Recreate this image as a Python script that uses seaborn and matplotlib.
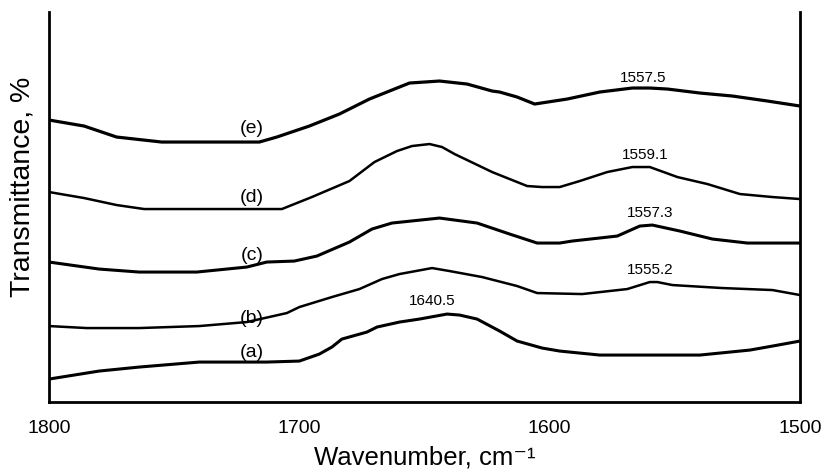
import numpy as np
import pandas as pd
import matplotlib
matplotlib.use("Agg")
import matplotlib.pyplot as plt
import seaborn as sns

# ---- data (y in arbitrary offset transmittance units) ----
wn_e = [1800, 1786, 1773, 1755, 1716, 1709, 1696, 1684, 1676, 1672, 1660, 1656, 1644, 1633,
        1623, 1620, 1613, 1606, 1593, 1580, 1567, 1560, 1553, 1540, 1527, 1513, 1500]
tr_e = [282, 276, 265, 260, 260, 265, 276, 288, 298, 303, 315, 319, 321, 318,
        311, 310, 305, 298, 303, 310, 314, 314, 313, 309, 306, 301, 296]

wn_d = [1800, 1786, 1773, 1762, 1707, 1695, 1680, 1670, 1661, 1655, 1648, 1643, 1638, 1623,
        1609, 1603, 1596, 1588, 1577, 1567, 1560, 1549, 1537, 1524, 1511, 1500]
tr_d = [210, 204, 197, 193, 193, 205, 221, 240, 251, 256, 258, 255, 248, 230,
        216, 215, 215, 221, 230, 235, 235, 225, 218, 208, 205, 203]

wn_c = [1800, 1780, 1764, 1741, 1721, 1713, 1702, 1693, 1680, 1671, 1663, 1644, 1629,
        1616, 1605, 1596, 1591, 1573, 1564, 1559, 1548, 1535, 1521, 1500]
tr_c = [140, 133, 130, 130, 135, 140, 141, 146, 160, 173, 179, 184, 179,
        168, 159, 159, 161, 166, 176, 177, 171, 163, 159, 159]

wn_b = [1800, 1785, 1764, 1740, 1721, 1705, 1700, 1687, 1676, 1667, 1660, 1647, 1640,
        1627, 1613, 1605, 1587, 1569, 1560, 1557, 1551, 1531, 1511, 1500]
tr_b = [76, 74, 74, 76, 80, 89, 95, 105, 113, 123, 128, 134, 131,
        125, 116, 109, 108, 113, 120, 120, 117, 114, 112, 107]

wn_a = [1800, 1780, 1764, 1740, 1713, 1700, 1692, 1687, 1683, 1673, 1669, 1660, 1652,
        1641, 1636, 1629, 1620, 1613, 1603, 1596, 1580, 1540, 1520, 1511, 1500]
tr_a = [23, 31, 35, 40, 40, 41, 48, 55, 63, 70, 75, 80, 83,
        88, 87, 83, 71, 61, 54, 51, 47, 47, 52, 56, 61]

curve_labels = ["(a)", "(b)", "(c)", "(d)", "(e)"]
peak_labels = ["1640.5", "1555.2", "1557.3", "1559.1", "1557.5"]
x_ticks = [1800, 1700, 1600, 1500]

# ---- build table ----
series = {"(a)": (wn_a, tr_a), "(b)": (wn_b, tr_b), "(c)": (wn_c, tr_c),
          "(d)": (wn_d, tr_d), "(e)": (wn_e, tr_e)}
rows = []
for name, (w, t) in series.items():
    for wi, ti in zip(w, t):
        rows.append({"curve": name, "wn": wi, "tr": ti})
df = pd.DataFrame(rows)

sns.set_style("white")
plt.rcParams["font.family"] = ["Liberation Sans", "DejaVu Sans"]
plt.rcParams["text.color"] = "black"
plt.rcParams["axes.labelcolor"] = "black"
plt.rcParams["xtick.color"] = "black"

fig = plt.figure(figsize=(8.24, 4.77), dpi=100)
ax = fig.add_axes([0.0595, 0.155, 0.9114, 0.8177])

widths = {"(a)": 2.2, "(b)": 1.8, "(c)": 2.2, "(d)": 1.8, "(e)": 2.3}
for name in curve_labels:
    sns.lineplot(data=df[df["curve"] == name], x="wn", y="tr", ax=ax,
                 color="black", lw=widths[name], sort=False, estimator=None,
                 legend=False, solid_joinstyle="round", solid_capstyle="round")

ax.set_xlim(1800, 1500)
ax.set_ylim(0, 390)
ax.set_xticks(x_ticks)
ax.set_xticklabels([str(t) for t in x_ticks], fontsize=14, color="black")
ax.set_yticks([])
ax.tick_params(axis="x", direction="out", length=3, width=2, pad=9, color="black")

for s in ["left", "right", "bottom"]:
    ax.spines[s].set_visible(True)
    ax.spines[s].set_color("black")
    ax.spines[s].set_linewidth(2.0)
ax.spines["top"].set_visible(False)

ax.set_xlabel("Wavenumber, cm\u207b\u00b9", fontsize=18.5, labelpad=6, color="black")
ax.set_ylabel("Transmittance, %", fontsize=20.5, color="black")
ax.yaxis.set_label_coords(-0.0175, 0.553)

# curve labels
label_pos = {"(a)": (1719, 51), "(b)": (1719, 85), "(c)": (1719, 148),
             "(d)": (1719, 206), "(e)": (1719, 275)}
for name in curve_labels:
    x, y = label_pos[name]
    ax.text(x, y, name, fontsize=14, ha="center", va="center", color="black")

# peak annotations
peak_pos = [(1647, 102), (1560, 133), (1560, 190), (1562, 248), (1562.7, 325)]
for lab, (x, y) in zip(peak_labels, peak_pos):
    ax.text(x, y, lab, fontsize=11, ha="center", va="center", color="black")

fig.savefig("out.png", dpi=100)
